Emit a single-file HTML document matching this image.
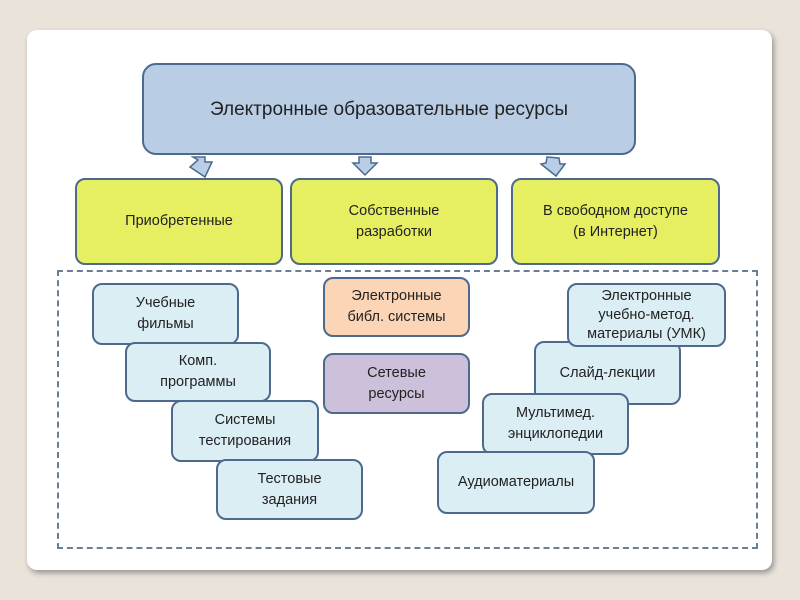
<!DOCTYPE html>
<html><head><meta charset="utf-8"><style>
body{margin:0;width:800px;height:600px;background:#e9e3da;position:relative;overflow:hidden;font-family:"Liberation Sans","DejaVu Sans",sans-serif;}
.card{position:absolute;left:27px;top:30px;width:745px;height:540px;background:#fff;border-radius:10px;box-shadow:2px 3px 6px rgba(0,0,0,.35);}
.b{position:absolute;display:flex;align-items:center;justify-content:center;text-align:center;border:2px solid #4d6a8e;border-radius:10px;box-sizing:border-box;color:#222;font-size:14.5px;line-height:21px;}
.y{background:#e6ee62;}
.l{background:#dbeef4;}
.dash{position:absolute;left:57px;top:270px;width:701px;height:279px;border:2px dashed #6a7f94;box-sizing:border-box;}
</style></head><body>
<div class="card"></div>
<div class="dash"></div>
<div class="b" style="left:142px;top:63px;width:494px;height:92px;background:#b9cde5;font-size:19px;border-radius:14px">Электронные образовательные ресурсы</div>
<svg style="position:absolute;left:0;top:0" width="800" height="600">
<g fill="#b9cde5" stroke="#4d6a8e" stroke-width="1.5">
<polygon points="193,157 205,157 205,162 212,162 205,177 190,167 198,160"/>
<polygon points="359,157 371,157 371,163 377,163 365,175 353,163 359,163"/>
<polygon points="547,157 559,158 560,164 565,164 556,176 541,164 546,163" />
</g></svg>
<div class="b y" style="left:75px;top:178px;width:208px;height:87px">Приобретенные</div>
<div class="b y" style="left:290px;top:178px;width:208px;height:87px">Собственные<br>разработки</div>
<div class="b y" style="left:511px;top:178px;width:209px;height:87px">В свободном доступе<br>(в Интернет)</div>
<div class="b l" style="left:92px;top:283px;width:147px;height:62px">Учебные<br>фильмы</div>
<div class="b l" style="left:125px;top:342px;width:146px;height:60px">Комп.<br>программы</div>
<div class="b l" style="left:171px;top:400px;width:148px;height:62px">Системы<br>тестирования</div>
<div class="b l" style="left:216px;top:459px;width:147px;height:61px">Тестовые<br>задания</div>
<div class="b" style="left:323px;top:277px;width:147px;height:60px;background:#fbd5b5">Электронные<br>библ. системы</div>
<div class="b" style="left:323px;top:353px;width:147px;height:61px;background:#ccc0da">Сетевые<br>ресурсы</div>
<div class="b l" style="left:534px;top:341px;width:147px;height:64px">Слайд-лекции</div>
<div class="b l" style="left:567px;top:283px;width:159px;height:64px;line-height:19px">Электронные<br>учебно-метод.<br>материалы (УМК)</div>
<div class="b l" style="left:482px;top:393px;width:147px;height:62px">Мультимед.<br>энциклопедии</div>
<div class="b l" style="left:437px;top:451px;width:158px;height:63px">Аудиоматериалы</div>
</body></html>
